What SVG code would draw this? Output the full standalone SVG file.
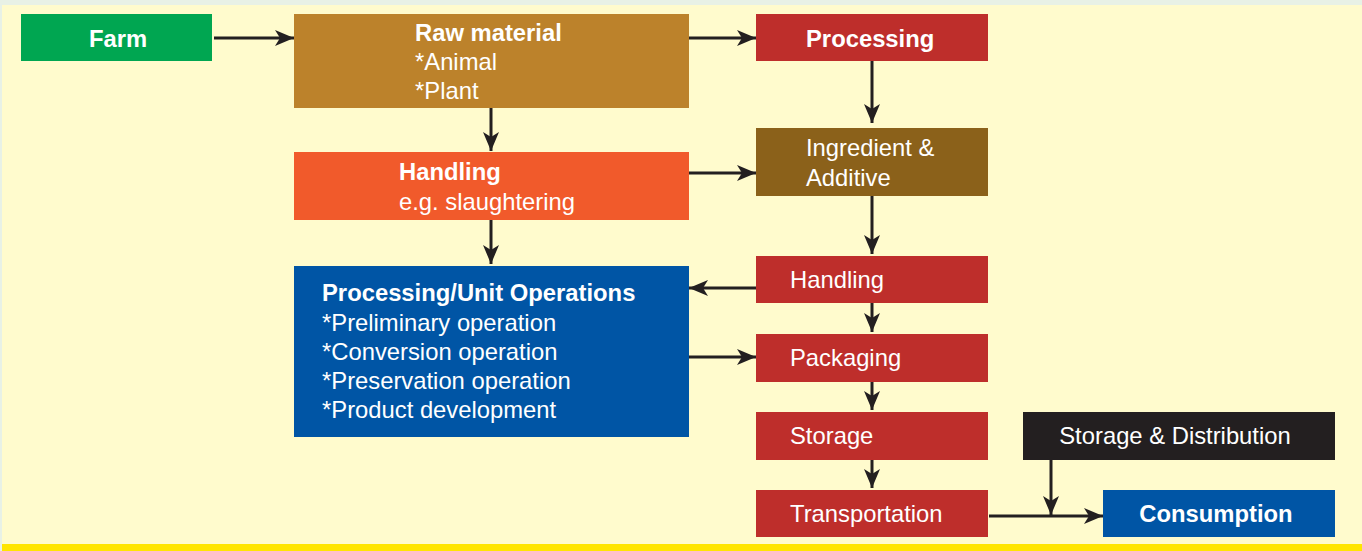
<svg xmlns="http://www.w3.org/2000/svg" width="1362" height="551" viewBox="0 0 1362 551">
<style>
.t{font-family:"Liberation Sans",Arial,sans-serif;font-size:23.8px;fill:#ffffff}
.b{font-weight:bold}
.c{text-anchor:middle}
.ln{stroke:#231f20;stroke-width:3;fill:none}
</style>
<defs>
<marker id="ah" markerUnits="userSpaceOnUse" markerWidth="20" markerHeight="16" refX="19" refY="8" orient="auto">
<path d="M0,0 L19,8 L0,16 L5,8 z" fill="#231f20"/>
</marker>
</defs>
<rect x="0" y="0" width="1362" height="551" fill="#e8f1e6"/>
<rect x="2" y="5" width="1360" height="546" fill="#fffbcd"/>
<rect x="2" y="544" width="1360" height="7" fill="#ffe500"/>

<g id="farm"><rect x="21" y="14" width="191" height="47" fill="#00a651"/><text class="t b c" x="118" y="47">Farm</text></g>
<g id="raw"><rect x="294" y="14" width="395" height="94" fill="#bc822b"/><text class="t b" x="415" y="41">Raw material</text><text class="t" x="415" y="70">*Animal</text><text class="t" x="415" y="99">*Plant</text></g>
<g id="processing"><rect x="756" y="14" width="232" height="47" fill="#be2e2b"/><text class="t b" x="806" y="47">Processing</text></g>
<g id="handling1"><rect x="294" y="152" width="395" height="68" fill="#f15a2b"/><text class="t b" x="399" y="180">Handling</text><text class="t" x="399" y="210">e.g. slaughtering</text></g>
<g id="ingredient"><rect x="756" y="128" width="232" height="68" fill="#8b611a"/><text class="t" x="806" y="156">Ingredient &amp;</text><text class="t" x="806" y="186">Additive</text></g>
<g id="unitops"><rect x="294" y="266" width="395" height="171" fill="#0055a5"/><text class="t b" x="322" y="301">Processing/Unit Operations</text><text class="t" x="322" y="331">*Preliminary operation</text><text class="t" x="322" y="360">*Conversion operation</text><text class="t" x="322" y="389">*Preservation operation</text><text class="t" x="322" y="418">*Product development</text></g>
<g id="handling2"><rect x="756" y="256" width="232" height="47" fill="#be2e2b"/><text class="t" x="790" y="288">Handling</text></g>
<g id="packaging"><rect x="756" y="334" width="232" height="48" fill="#be2e2b"/><text class="t" x="790" y="366">Packaging</text></g>
<g id="storage"><rect x="756" y="412" width="232" height="48" fill="#be2e2b"/><text class="t" x="790" y="444">Storage</text></g>
<g id="transportation"><rect x="756" y="490" width="232" height="47" fill="#be2e2b"/><text class="t" x="790" y="522">Transportation</text></g>
<g id="storagedist"><rect x="1023" y="412" width="312" height="48" fill="#231f20"/><text class="t c" x="1175" y="444">Storage &amp; Distribution</text></g>
<g id="consumption"><rect x="1103" y="490" width="232" height="47" fill="#0055a5"/><text class="t b c" x="1216" y="522">Consumption</text></g>

<g id="connectors">
<line class="ln" x1="214" y1="38" x2="294" y2="38" marker-end="url(#ah)"/>
<line class="ln" x1="689" y1="38" x2="756" y2="38" marker-end="url(#ah)"/>
<line class="ln" x1="872" y1="61" x2="872" y2="123" marker-end="url(#ah)"/>
<line class="ln" x1="491" y1="108" x2="491" y2="151" marker-end="url(#ah)"/>
<line class="ln" x1="689" y1="173" x2="756" y2="173" marker-end="url(#ah)"/>
<line class="ln" x1="491" y1="220" x2="491" y2="264" marker-end="url(#ah)"/>
<line class="ln" x1="872" y1="196" x2="872" y2="254" marker-end="url(#ah)"/>
<line class="ln" x1="756" y1="288" x2="689" y2="288" marker-end="url(#ah)"/>
<line class="ln" x1="689" y1="357" x2="756" y2="357" marker-end="url(#ah)"/>
<line class="ln" x1="872" y1="303" x2="872" y2="332" marker-end="url(#ah)"/>
<line class="ln" x1="872" y1="382" x2="872" y2="410" marker-end="url(#ah)"/>
<line class="ln" x1="872" y1="460" x2="872" y2="488" marker-end="url(#ah)"/>
<line class="ln" x1="989" y1="516" x2="1103" y2="516" marker-end="url(#ah)"/>
<line class="ln" x1="1051" y1="460" x2="1051" y2="515" marker-end="url(#ah)"/>
</g>
</svg>
